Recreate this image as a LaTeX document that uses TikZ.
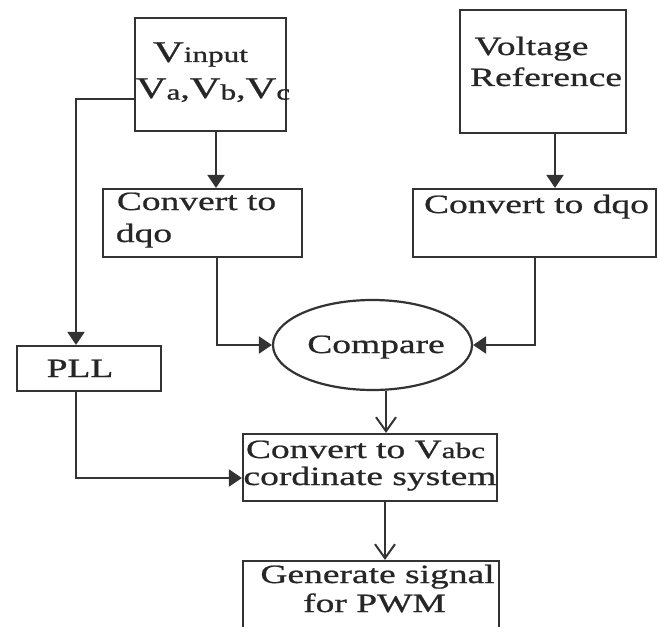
\documentclass[tikz,border=0pt]{standalone}
\usepackage{fontspec}
\setmainfont{Liberation Serif}[FakeStretch=1.42,FakeBold=0.8]
\usetikzlibrary{arrows.meta,shapes.geometric}
\newcommand\bigV{{\fontsize{15}{16}\selectfont V}}
\newcommand\subs[1]{{\fontsize{11}{12}\selectfont #1}}
\tikzset{
  box/.style={draw=black!80, line width=1.1pt, inner sep=0pt},
  txt/.style={inner sep=0pt, anchor=base, text=black!85, font=\fontsize{13.2}{15}\selectfont},
  conn/.style={line width=1.1pt, draw=black!80},
  farr/.style={conn, -{Triangle[length=6.5pt,width=8.5pt]}},
  oarr/.style={conn, -{Straight Barb[length=7pt,width=10pt,line width=1pt]}}
}
\begin{document}
\begin{tikzpicture}[x=0.5pt,y=-0.5pt]
\useasboundingbox (0,0) rectangle (658,626);
\fill[white] (0,0) rectangle (658,626);
\clip (0,0) rectangle (658,626);
% boxes
\node[box, minimum width=75.5pt, minimum height=56.5pt] (vin) at (210.5,74.5) {};
\node[box, minimum width=83pt, minimum height=61.5pt] (vr) at (543,71.5) {};
\node[box, minimum width=99.5pt, minimum height=34pt] (cdq1) at (202.5,223) {};
\node[box, minimum width=121.5pt, minimum height=34pt] (cdq2) at (534.5,223) {};
\node[box, ellipse, minimum width=99.5pt, minimum height=45pt] (cmp) at (372.5,345) {};
\node[box, minimum width=72pt, minimum height=22.5pt] (pll) at (89,368.5) {};
\node[box, minimum width=127pt, minimum height=33.5pt] (vabc) at (370,467.5) {};
\node[box, minimum width=128pt, minimum height=39.5pt] (gen) at (371,600.5) {};
% texts
\node[txt] (t1) at (200.5,62) {\bigV\subs{input}};
\node[txt] (t2) at (213,98) {\bigV\raisebox{-0.8pt}{\subs{a}},\bigV\raisebox{-0.8pt}{\subs{b}},\bigV\raisebox{-0.8pt}{\subs{c}}};
\node[txt] (t3) at (531.5,55) {Voltage};
\node[txt] (t4) at (546,86) {Reference};
\node[txt] (t5) at (196.5,210) {Convert to};
\node[txt] (t6) at (144,242) {dqo};
\node[txt] (t7) at (536.5,213) {Convert to dqo};
\node[txt] (t8) at (376,353) {Compare};
\node[txt] (t9) at (80,377) {PLL};
\node[txt] (t10) at (365.5,458) {Convert to V\subs{abc}};
\node[txt] (t11) at (370,485) {cordinate system};
\node[txt] (t12) at (377.5,583) {Generate signal};
\node[txt] (t13) at (374.5,612) {for PWM};
% connectors
\draw[farr] ([xshift=2.75pt]vin.south) -- ([xshift=2.75pt]vin.south |- cdq1.north);
\draw[farr] ([xshift=6pt]vr.south) -- ([xshift=6pt]vr.south |- cdq2.north);
\draw[farr] ([yshift=-12.25pt]vin.west) -| ([xshift=-6.5pt]pll.north);
\draw[farr] ([xshift=7.25pt]cdq1.south) |- (cmp.west);
\draw[farr] ([xshift=0.25pt]cdq2.south) |- (cmp.east);
\draw[oarr] ([xshift=6.75pt]cmp.south) -- ([xshift=6.75pt]cmp.south |- vabc.north);
\draw[farr] ([xshift=-6.5pt]pll.south) |- ([yshift=-5.25pt]vabc.west);
\draw[oarr] ([xshift=7.5pt]vabc.south) -- ([xshift=7.5pt]vabc.south |- gen.north);
\end{tikzpicture}
\end{document}
